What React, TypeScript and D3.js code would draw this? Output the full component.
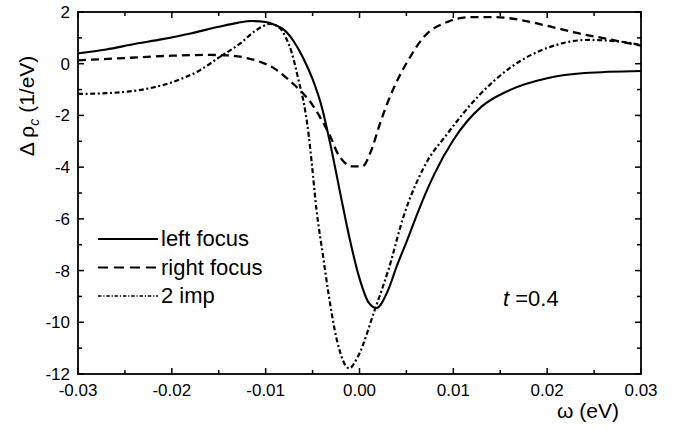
import React from "react";
import * as d3 from "d3";

const leftFocus: [number, number][] = [
  [-0.03, 0.4], [-0.027, 0.55], [-0.024, 0.76], [-0.021, 0.95], [-0.018, 1.17], [-0.015, 1.43],
  [-0.013, 1.58], [-0.0115, 1.65], [-0.01, 1.61], [-0.009, 1.5], [-0.008, 1.3], [-0.007, 0.86],
  [-0.006, 0.22], [-0.005, -0.6], [-0.004, -1.7], [-0.003, -3.3], [-0.002, -5.1], [-0.001, -6.85],
  [0.0, -8.3], [0.001, -9.25], [0.0018, -9.45], [0.003, -8.8], [0.004, -7.8], [0.005, -6.9],
  [0.006, -5.95], [0.007, -5.05], [0.008, -4.25], [0.01, -2.95], [0.013, -1.66], [0.016, -1.02],
  [0.02, -0.56], [0.024, -0.36], [0.03, -0.28],
];

const rightFocus: [number, number][] = [
  [-0.03, 0.13], [-0.025, 0.22], [-0.02, 0.31], [-0.016, 0.34], [-0.014, 0.32], [-0.012, 0.22],
  [-0.0105, 0.06], [-0.009, -0.2], [-0.008, -0.48], [-0.007, -0.8], [-0.006, -1.15], [-0.005, -1.6],
  [-0.004, -2.2], [-0.003, -2.9], [-0.0024, -3.42], [-0.0017, -3.78], [-0.0008, -3.97], [0.0003, -3.97],
  [0.0012, -3.4], [0.0022, -2.3], [0.003, -1.5], [0.0037, -0.9], [0.0052, 0.14], [0.0069, 1.05],
  [0.0094, 1.62], [0.0119, 1.8], [0.0145, 1.8], [0.0176, 1.66], [0.0204, 1.43], [0.0233, 1.18],
  [0.0261, 0.98], [0.03, 0.7],
];

const twoImp: [number, number][] = [
  [-0.03, -1.17], [-0.027, -1.14], [-0.0247, -1.08], [-0.022, -0.92], [-0.0193, -0.63], [-0.017, -0.25],
  [-0.0151, 0.21], [-0.0127, 0.79], [-0.011, 1.3], [-0.0095, 1.54], [-0.0085, 1.38], [-0.0079, 1.05],
  [-0.0072, 0.4], [-0.0065, -0.63], [-0.0058, -1.79], [-0.0054, -2.8], [-0.0051, -3.8], [-0.0046, -5.6],
  [-0.0039, -7.4], [-0.0033, -8.9], [-0.0024, -10.7], [-0.0011, -11.78], [-0.0002, -11.35],
  [0.0016, -9.55], [0.0031, -7.95], [0.0047, -5.9], [0.0069, -3.98], [0.0094, -2.69], [0.0126, -1.28],
  [0.0162, -0.12], [0.0204, 0.66], [0.0244, 0.92], [0.0279, 0.85], [0.03, 0.72],
];

const xMajor = [-0.03, -0.02, -0.01, 0.0, 0.01, 0.02, 0.03];
const xMinor = [-0.025, -0.015, -0.005, 0.005, 0.015, 0.025];
const xLabels = ["-0.03", "-0.02", "-0.01", "0.00", "0.01", "0.02", "0.03"];
const yMajor = [2, 0, -2, -4, -6, -8, -10, -12];
const yMinor = [1, -1, -3, -5, -7, -9, -11];
const yLabels = ["2", "0", "-2", "-4", "-6", "-8", "-10", "-12"];
const legendNames = ["left focus", "right focus", "2 imp"];

const W = 678, H = 430;
const L = 78, R = 641, T = 12, B = 374;
const FONT = "'Liberation Sans', Arial, Helvetica, sans-serif";

export default function App() {
  const x = d3.scaleLinear().domain([-0.03, 0.03]).range([L, R]);
  const y = d3.scaleLinear().domain([-12, 2]).range([B, T]);
  const line = d3
    .line<[number, number]>()
    .x((d) => x(d[0]))
    .y((d) => y(d[1]))
    .curve(d3.curveMonotoneX);

  const major = 6, minor = 4;
  const series = [
    { data: leftFocus, dash: "none", w: 2.1 },
    { data: rightFocus, dash: "8 5", w: 2.3 },
    { data: twoImp, dash: "5 2.6 2 2.6", w: 2.2 },
  ];
  const legendStyles = [
    { dash: "none", w: 1.8 },
    { dash: "10 6", w: 2.2 },
    { dash: "3.5 1.8 1.2 1.8", w: 1.3 },
  ];

  return (
    <svg width={W} height={H} style={{ position: "absolute", left: 0, top: 0, background: "#fff" }} fontFamily={FONT}>
      <rect x={0} y={0} width={W} height={H} fill="#fff" />
      <defs>
        <clipPath id="plotclip">
          <rect x={L} y={T} width={R - L} height={B - T} />
        </clipPath>
      </defs>
      <g clipPath="url(#plotclip)">
        {series.map((s, i) => (
          <path key={i} d={line(s.data) || ""} fill="none" stroke="#000" strokeWidth={s.w}
            strokeDasharray={s.dash} strokeLinejoin="round" />
        ))}
      </g>
      <rect x={L} y={T} width={R - L} height={B - T} fill="none" stroke="#000" strokeWidth={1.8} />
      {xMajor.map((v, i) => (
        <g key={"xm" + i}>
          <line x1={x(v)} x2={x(v)} y1={B} y2={B - major} stroke="#000" strokeWidth={1.5} />
          <line x1={x(v)} x2={x(v)} y1={T} y2={T + major} stroke="#000" strokeWidth={1.5} />
          <text x={x(v)} y={B + 22} fontSize={17} textAnchor="middle">{xLabels[i]}</text>
        </g>
      ))}
      {xMinor.map((v, i) => (
        <g key={"xn" + i}>
          <line x1={x(v)} x2={x(v)} y1={B} y2={B - minor} stroke="#000" strokeWidth={1.5} />
          <line x1={x(v)} x2={x(v)} y1={T} y2={T + minor} stroke="#000" strokeWidth={1.5} />
        </g>
      ))}
      {yMajor.map((v, i) => (
        <g key={"ym" + i}>
          <line x1={L} x2={L + major} y1={y(v)} y2={y(v)} stroke="#000" strokeWidth={1.5} />
          <line x1={R} x2={R - major} y1={y(v)} y2={y(v)} stroke="#000" strokeWidth={1.5} />
          <text x={L - 8} y={y(v) + 6} fontSize={17} textAnchor="end">{yLabels[i]}</text>
        </g>
      ))}
      {yMinor.map((v, i) => (
        <g key={"yn" + i}>
          <line x1={L} x2={L + minor} y1={y(v)} y2={y(v)} stroke="#000" strokeWidth={1.5} />
          <line x1={R} x2={R - minor} y1={y(v)} y2={y(v)} stroke="#000" strokeWidth={1.5} />
        </g>
      ))}
      <text x={588} y={418} fontSize={21} textAnchor="middle">ω (eV)</text>
      <text transform="translate(34,106) rotate(-90)" fontSize={21} textAnchor="middle">
        Δ ρ<tspan fontSize={14} fontStyle="italic" dy={5}>c</tspan>
        <tspan dy={-5}> (1/eV)</tspan>
      </text>
      {legendNames.map((n, i) => (
        <g key={"lg" + i}>
          <line x1={98} x2={158} y1={239 + i * 28.5} y2={239 + i * 28.5} stroke="#000"
            strokeWidth={legendStyles[i].w} strokeDasharray={legendStyles[i].dash} />
          <text x={161} y={246 + i * 28.5} fontSize={22}>{n}</text>
        </g>
      ))}
      <text x={503} y={306} fontSize={22}>
        <tspan fontStyle="italic">t</tspan>
        <tspan> =0.4</tspan>
      </text>
    </svg>
  );
}
